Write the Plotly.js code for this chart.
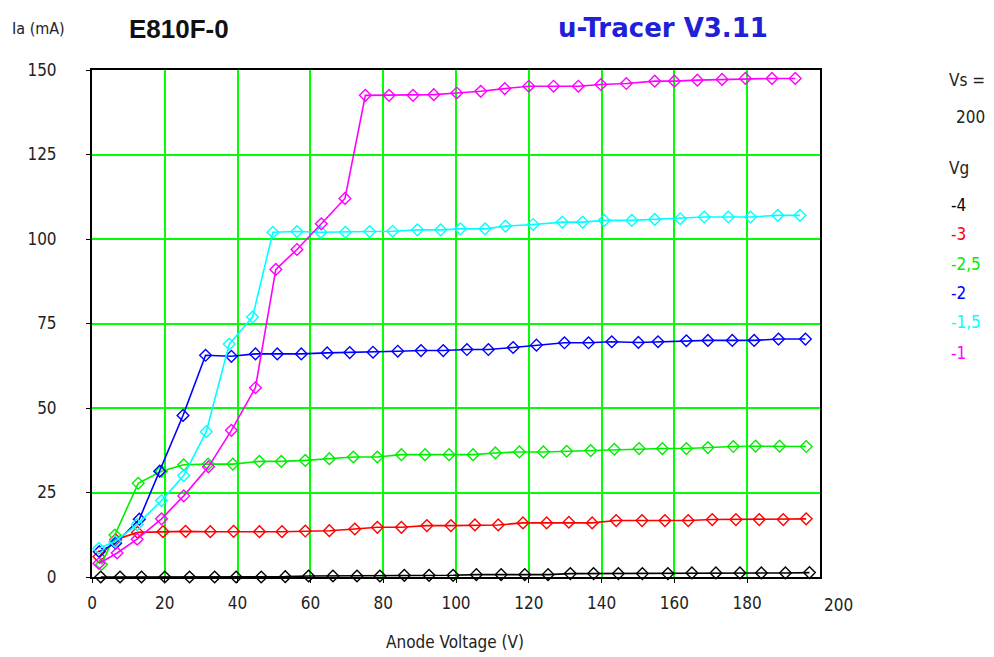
<!DOCTYPE html>
<html>
<head>
<meta charset="utf-8">
<script src="https://cdn.plot.ly/plotly-3.0.1.min.js"></script>
<style>html,body{margin:0;padding:0;background:#fff;}#chart{width:994px;height:657px;}</style>
</head>
<body>
<div id="chart"></div>
<script>
// Vg = -4
const va_m4 = [2.4, 7.7, 13.6, 20.0, 26.8, 33.7, 39.6, 46.5, 53.1, 59.5, 66.2, 72.8, 79.1, 85.8, 92.6, 99.2, 105.6, 112.4, 118.9, 125.3, 131.4, 137.8, 144.6, 151.2, 158.2, 164.8, 171.4, 178.0, 183.9, 190.5, 197.1];
const ia_m4 = [0, 0, 0, 0, 0, 0, 0, 0, 0.1, 0.3, 0.3, 0.3, 0.3, 0.5, 0.5, 0.5, 0.7, 0.7, 0.7, 0.7, 1.0, 1.0, 1.0, 1.0, 1.0, 1.2, 1.2, 1.2, 1.2, 1.2, 1.3];
// Vg = -3
const va_m3 = [1.9, 6.5, 12.5, 19.5, 25.7, 32.5, 38.9, 46.0, 52.2, 58.6, 65.2, 72.2, 78.4, 85.0, 92.0, 98.6, 105.2, 111.6, 118.4, 124.9, 131.0, 137.4, 144.0, 151.1, 157.4, 163.8, 170.4, 176.9, 183.3, 189.9, 196.2];
const ia_m3 = [6.0, 11.0, 13.2, 13.4, 13.5, 13.4, 13.5, 13.4, 13.4, 13.6, 13.7, 14.2, 14.7, 14.7, 15.2, 15.2, 15.4, 15.4, 16.0, 16.0, 16.2, 16.0, 16.7, 16.7, 16.7, 16.7, 17.0, 17.0, 17.0, 17.0, 17.2];
// Vg = -2.5
const va_m25 = [2.6, 6.3, 12.7, 19.1, 25.2, 31.9, 38.7, 46.0, 52.0, 58.6, 65.2, 71.8, 78.4, 85.0, 91.5, 98.1, 104.7, 110.8, 117.4, 124.0, 130.4, 137.0, 143.5, 150.3, 156.7, 163.3, 169.2, 176.2, 182.3, 188.9, 196.2];
const ia_m25 = [3.7, 12.4, 27.7, 31.3, 33.2, 33.4, 33.4, 34.2, 34.2, 34.5, 35.0, 35.5, 35.5, 36.2, 36.2, 36.2, 36.2, 36.7, 37.0, 37.0, 37.2, 37.4, 37.8, 38.0, 38.0, 38.0, 38.3, 38.6, 38.7, 38.7, 38.6];
// Vg = -2
const va_m2 = [2.0, 6.5, 13.0, 18.6, 25.0, 31.2, 38.3, 44.9, 50.9, 57.5, 64.6, 70.8, 77.2, 84.0, 90.4, 96.5, 103.0, 108.9, 115.7, 122.1, 129.8, 136.4, 142.8, 150.1, 155.5, 163.3, 169.2, 175.9, 181.9, 188.6, 196.0];
const ia_m2 = [7.5, 10.0, 17.1, 31.3, 47.8, 65.6, 65.3, 66.0, 66.0, 66.0, 66.3, 66.4, 66.5, 66.8, 67.0, 67.0, 67.3, 67.3, 67.9, 68.6, 69.3, 69.3, 69.6, 69.4, 69.6, 69.9, 70.0, 70.0, 70.0, 70.4, 70.4];
// Vg = -1.5
const va_m15 = [1.9, 6.3, 12.4, 19.1, 25.2, 31.4, 37.7, 44.1, 49.7, 56.3, 62.9, 69.6, 76.3, 82.6, 89.4, 95.8, 101.2, 108.0, 113.6, 121.2, 129.2, 134.8, 140.7, 148.3, 154.6, 161.6, 168.2, 174.8, 180.9, 188.4, 194.5];
const ia_m15 = [8.5, 10.5, 15.5, 22.6, 30.0, 43.0, 68.9, 76.9, 102.0, 102.2, 102.0, 102.0, 102.2, 102.3, 102.7, 102.7, 103.0, 103.0, 103.8, 104.3, 105.0, 105.0, 105.5, 105.5, 105.8, 106.0, 106.5, 106.5, 106.5, 107.0, 107.0];
// Vg = -1
const va_m1 = [1.9, 6.9, 12.4, 19.1, 25.2, 32.0, 38.3, 44.9, 50.5, 56.3, 63.0, 69.5, 75.1, 81.6, 88.2, 93.9, 100.2, 106.8, 113.4, 120.0, 126.8, 133.6, 139.8, 146.8, 154.6, 160.0, 166.3, 173.1, 179.5, 186.8, 193.2];
const ia_m1 = [4.0, 7.1, 11.2, 17.2, 24.0, 32.6, 43.4, 56.0, 91.0, 96.9, 104.5, 112.0, 142.5, 142.5, 142.5, 142.7, 143.2, 143.7, 144.5, 145.2, 145.2, 145.2, 145.7, 146.0, 146.7, 146.7, 147.0, 147.2, 147.5, 147.5, 147.5];

const vgLabels = ["-4", "-3", "-2,5", "-2", "-1,5", "-1"];
const xTicks = [0, 20, 40, 60, 80, 100, 120, 140, 160, 180];
const yTicks = [0, 25, 50, 75, 100, 125, 150];

const colors = ["#000000", "#ff0000", "#00ee00", "#0000ff", "#00ffff", "#ff00ff"];
const xs = [va_m4, va_m3, va_m25, va_m2, va_m15, va_m1];
const ys = [ia_m4, ia_m3, ia_m25, ia_m2, ia_m15, ia_m1];

const traces = xs.map((x, i) => ({
  x: x, y: ys[i], type: "scatter", mode: "lines+markers", name: vgLabels[i],
  line: {color: colors[i], width: 1.6},
  marker: {symbol: "diamond-open", size: 9, color: colors[i], line: {width: 1.4, color: colors[i]}},
  cliponaxis: false
}));

const txtFont = "Liberation Sans, Arial, sans-serif";
const narrow = "Liberation Sans Narrow, DejaVu Sans Condensed, Liberation Sans, sans-serif";
const L = 92, T = 70, W = 728, H = 507;
const px = v => (v - L) / W;
const py = v => (T + H - v) / H;

const ann = [
  {text: "Ia (mA)", x: px(10), y: py(28), font: {family: narrow, size: 16, color: "#222"}},
  {text: "<b>E810F-0</b>", x: px(127), y: py(29), font: {family: txtFont, size: 26, color: "#111"}},
  {text: "<b>u-Tracer V3.11</b>", x: px(556), y: py(28), font: {family: "DejaVu Sans, sans-serif", size: 26, color: "#2020d8"}},
  {text: "Anode Voltage (V)", x: px(384), y: py(642), font: {family: narrow, size: 17, color: "#222"}},
  {text: "200", x: px(822), y: py(605), font: {family: narrow, size: 17, color: "#222"}},
  {text: "Vs =", x: px(947), y: py(80), font: {family: narrow, size: 17, color: "#222"}},
  {text: "200", x: px(954), y: py(117), font: {family: narrow, size: 17, color: "#222"}},
  {text: "Vg", x: px(947), y: py(168), font: {family: narrow, size: 17, color: "#222"}}
];
const legY = [205, 234, 264, 293, 322, 353];
vgLabels.forEach((t, i) => ann.push({text: t, x: px(949), y: py(legY[i]), font: {family: narrow, size: 17, color: colors[i]}}));
ann.forEach(a => { a.xref = "paper"; a.yref = "paper"; a.xanchor = "left"; a.yanchor = "middle"; a.showarrow = false; });

const layout = {
  width: 994, height: 657,
  margin: {l: L, r: 994 - L - W, t: T, b: 657 - T - H},
  paper_bgcolor: "#ffffff", plot_bgcolor: "#ffffff",
  showlegend: false,
  xaxis: {
    range: [0, 200], tickvals: xTicks, ticktext: xTicks.map(String),
    showgrid: true, gridcolor: "#00ff00", gridwidth: 2,
    zeroline: false, showline: true, linecolor: "#000", linewidth: 2, mirror: true,
    ticks: "outside", ticklen: 4, tickcolor: "#000",
    tickfont: {family: narrow, size: 17, color: "#222"}, ticklabelstandoff: 6
  },
  yaxis: {
    range: [0, 150], tickvals: yTicks, ticktext: yTicks.map(String),
    showgrid: true, gridcolor: "#00ff00", gridwidth: 2,
    zeroline: false, showline: true, linecolor: "#000", linewidth: 2, mirror: true,
    ticks: "outside", ticklen: 4, tickcolor: "#000",
    tickfont: {family: narrow, size: 17, color: "#222"}, ticklabelstandoff: 26
  },
  annotations: ann
};

Plotly.newPlot("chart", traces, layout, {staticPlot: true, displayModeBar: false});
</script>
</body>
</html>
